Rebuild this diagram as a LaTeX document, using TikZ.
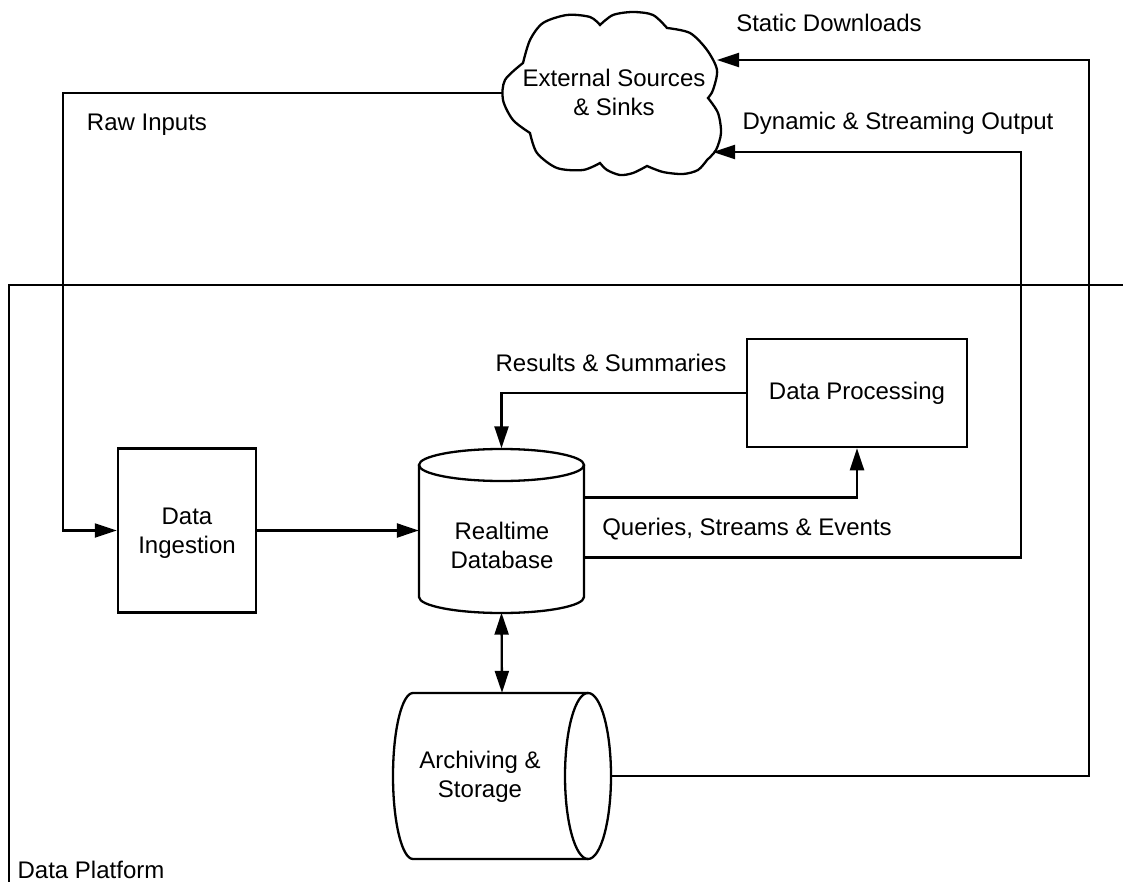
\documentclass[tikz,border=0pt]{standalone}
\usepackage{fontspec}
\setmainfont{Liberation Sans}
\usetikzlibrary{arrows.meta,calc}
\begin{document}
\begin{tikzpicture}[x=1pt,y=-1pt,
  ln/.style={line width=2.3pt, line join=miter},
  tip/.tip={Triangle[length=22pt,width=14pt]},
  arr/.style={ln,-tip},
  darr/.style={ln,tip-tip},
  box/.style={draw,line width=2.5pt,rectangle,inner sep=0pt},
  txt/.style={font=\fontsize{24}{29}\selectfont, align=center, inner sep=0pt},
  lbl/.style={font=\fontsize{24}{29}\selectfont, inner sep=0pt, anchor=base},
  ghost/.style={draw=none,rectangle,inner sep=0pt},
]
\useasboundingbox (0,0) rectangle (1123,882);

% ---------- platform frame ----------
\coordinate (pl1) at (9,882);
\coordinate (pl2) at (9,285);
\coordinate (pl3) at (1125,285);
\draw[ln] (pl1) -- (pl2) -- (pl3);
\node[lbl] (lplat) at (91,878) {Data Platform};

% ---------- cloud ----------
\draw[line width=2.3pt, line join=miter]
  plot[smooth] coordinates {(523,63) (530,40) (543,23) (567,15) (590,17) (600,25)}
  -- plot[smooth] coordinates {(600,25) (613,15) (633,12) (653,15) (667,28)}
  -- plot[smooth] coordinates {(667,28) (690,33) (707,50) (717,70) (713,90) (708,98)}
  -- plot[smooth] coordinates {(708,98) (718,113) (721,133) (716,150) (707,160)}
  -- plot[smooth] coordinates {(707,160) (698,170) (683,174) (663,172) (647,166)}
  -- plot[smooth] coordinates {(647,166) (633,173) (620,175) (607,170) (600,163)}
  -- plot[smooth] coordinates {(600,163) (583,170) (557,168) (537,153) (530,133)}
  -- plot[smooth] coordinates {(530,133) (513,120) (503,100) (505,80) (523,63)} -- cycle;
\node[txt] (cloudt) at (614,92) {External Sources\\\& Sinks};
\coordinate (cloudW) at (503,93);
\coordinate (statTip) at (717,60);
\coordinate (dynTip) at (713,152);

% ---------- boxes ----------
\node[box, minimum width=138, minimum height=164] (ing) at (187,530.5) {};
\node[txt] (ingt) at (187,533) {Data\\Ingestion};
\node[box, txt, minimum width=220, minimum height=108] (proc) at (857,393) {Data Processing};

% ---------- realtime database (vertical cylinder) ----------
\node[ghost, minimum width=165, minimum height=164] (db) at (501.5,530.5) {};
\draw[ln] (501.5,465) ellipse [x radius=82.5, y radius=16];
\draw[ln] (419,465) -- (419,597) arc[start angle=180, end angle=0, x radius=82.5, y radius=16] -- (584,465);
\node[txt] (dbt) at (502,545) {Realtime\\Database};

% ---------- archive (horizontal cylinder) ----------
\node[ghost, minimum width=218, minimum height=166] (arch) at (502,776) {};
\draw[ln] (588,693) -- (413,693) arc[start angle=270, end angle=90, x radius=20, y radius=83] -- (588,859);
\draw[ln] (588,776) ellipse [x radius=23, y radius=83];
\node[txt] (archt) at (480,777) {Archiving \&\\Storage};

% ---------- connectors ----------
\coordinate (rawcorner) at (63,93);
\draw[arr] (cloudW) -- (rawcorner) |- (ing.west);
\node[lbl] (lraw) at (147,131) {Raw Inputs};

\draw[arr] (ing.east) -- (db.west);

\draw[arr] ($(db.east)+(0,-33)$) -| (proc.south);
\node[lbl] (lq) at (747,535) {Queries, Streams \& Events};

\draw[arr] (proc.west) -| (db.north);
\node[lbl] (lres) at (611,371) {Results \& Summaries};

\coordinate (dyncorner) at (1021,152);
\draw[arr] ($(db.east)+(0,27)$) -| (dyncorner) -- (dynTip);
\node[lbl] (ldyn) at (898,130) {Dynamic \& Streaming Output};

\coordinate (statcorner) at (1089,60);
\draw[arr] (arch.east) -| (statcorner) -- (statTip);
\node[lbl] (lstat) at (829,32) {Static Downloads};

\draw[darr] (db.south) -- (arch.north);
\end{tikzpicture}
\end{document}
